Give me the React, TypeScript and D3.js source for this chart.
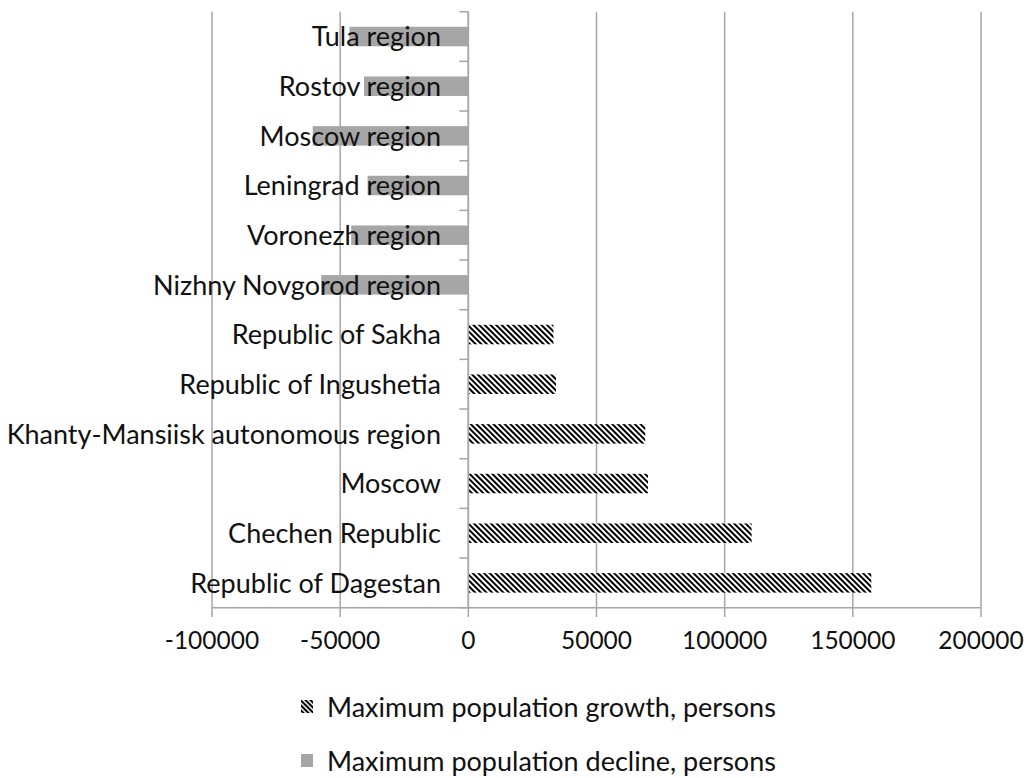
import React from "react";
import * as d3 from "d3";

const categories = [
  "Tula region",
  "Rostov region",
  "Moscow region",
  "Leningrad region",
  "Voronezh region",
  "Nizhny Novgorod region",
  "Republic of Sakha",
  "Republic of Ingushetia",
  "Khanty-Mansiisk autonomous region",
  "Moscow",
  "Chechen Republic",
  "Republic of Dagestan",
];
const growth = [0, 0, 0, 0, 0, 0, 33200, 34200, 69000, 70100, 110500, 157200];
const decline = [-46400, -40700, -60700, -39300, -45700, -57400, 0, 0, 0, 0, 0, 0];
const xTicks = [-100000, -50000, 0, 50000, 100000, 150000, 200000];
const legendLabels = ["Maximum population growth, persons", "Maximum population decline, persons"];

const W = 1030;
const H = 778;
const FONT = "Lato, 'Open Sans', sans-serif";
const GRID = "#a6a6a6";

export default function App() {
  const x = d3.scaleLinear().domain([-100000, 200000]).range([212, 981]);
  const y = d3.scaleBand<string>().domain(categories).range([11.7, 607.7]).paddingInner(0).paddingOuter(0);
  const bh = 19.5;
  const bw = y.bandwidth();
  return (
    <svg width={W} height={H} style={{ position: "absolute", left: 0, top: 0, background: "#fff" }} fontFamily={FONT}>
      <defs>
        <pattern id="hatch" width={4} height={4} patternUnits="userSpaceOnUse" patternTransform="rotate(-45)">
          <rect width={4} height={4} fill="#fff" />
          <rect x={0} y={0} width={2} height={4} fill="#000" />
        </pattern>
        <pattern id="hatchLeg" width={3.5} height={3.5} patternUnits="userSpaceOnUse" patternTransform="rotate(-45)">
          <rect width={3.5} height={3.5} fill="#fff" />
          <rect x={0} y={0} width={2} height={3.5} fill="#000" />
        </pattern>
      </defs>
      {/* gridlines */}
      {xTicks.map((t) => (
        <line key={"g" + t} x1={x(t)} x2={x(t)} y1={11.7} y2={617} stroke={GRID} strokeWidth={1.5} />
      ))}
      {/* bottom axis */}
      <line x1={x(-100000)} x2={x(200000)} y1={607.7} y2={607.7} stroke={GRID} strokeWidth={1.5} />
      {/* bars */}
      {categories.map((c, i) => (
        <g key={c}>
          {decline[i] !== 0 && (
            <rect x={x(decline[i])} width={x(0) - x(decline[i])} y={(y(c) as number) + bw / 2 - bh / 2} height={bh} fill="#a6a6a6" />
          )}
          {growth[i] !== 0 && (
            <rect x={x(0)} width={x(growth[i]) - x(0)} y={(y(c) as number) + bw / 2 - bh / 2} height={bh} fill="url(#hatch)" />
          )}
        </g>
      ))}
      {/* category axis */}
      <line x1={x(0)} x2={x(0)} y1={11.7} y2={607.7} stroke={GRID} strokeWidth={1.5} />
      {categories.map((c) => (
        <line key={"t" + c} x1={x(0) - 9} x2={x(0)} y1={y(c) as number} y2={y(c) as number} stroke={GRID} strokeWidth={1.5} />
      ))}
      <line x1={x(0) - 9} x2={x(0)} y1={607.7} y2={607.7} stroke={GRID} strokeWidth={1.5} />
      {/* category labels */}
      {categories.map((c) => (
        <text key={"l" + c} x={441} y={(y(c) as number) + bw / 2} dy="0.36em" textAnchor="end" fontSize={27} fill="#111">
          {c}
        </text>
      ))}
      {/* x tick labels */}
      {xTicks.map((t) => (
        <text key={"xl" + t} x={x(t)} y={640} dy="0.36em" textAnchor="middle" fontSize={24.5} fill="#111">
          {t}
        </text>
      ))}
      {/* legend */}
      <rect x={301} y={700} width={12} height={13} fill="url(#hatchLeg)" />
      <text x={327} y={707} dy="0.36em" fontSize={27} fill="#111">{legendLabels[0]}</text>
      <rect x={301} y={754} width={12} height={13} fill="#a6a6a6" />
      <text x={327} y={761} dy="0.36em" fontSize={27} fill="#111">{legendLabels[1]}</text>
    </svg>
  );
}
